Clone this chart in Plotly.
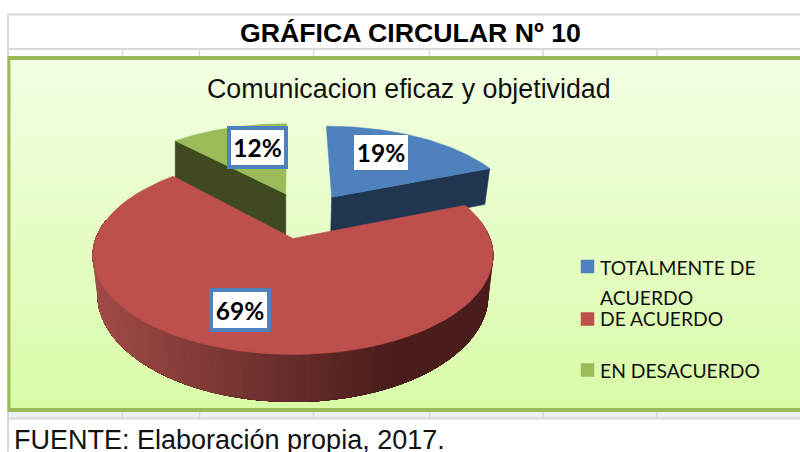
import math
import plotly.graph_objects as go

# ---- data ----
categories = ["TOTALMENTE DE", "DE ACUERDO", "EN DESACUERDO"]
legend_wrap = "ACUERDO"
values = [19, 69, 12]
label_texts = ["19%", "69%", "12%"]
top_colors = ["#4F81BD", "#BD4F4C", "#9BBB59"]
wall_colors = ["#1F3550", "#4A1D1C", "#3F4A20"]
main_title = "GRÁFICA CIRCULAR Nº 10"
chart_title = "Comunicacion eficaz y objetividad"
source_text = "FUENTE: Elaboración propia, 2017."

# ---- 3D projection of the pie (pixel-like data space) ----
CX, CY, R, RY, K, DEPTH, SHRINK = 293, 238.5, 197, 96, 0.172, 39, 0.975
explode = [(0.212, 0.465), (0.0, 0.0), (-0.04, 0.505)]
depth_scale = [1.05, 1.0, 1.22]


def top_pt(u, v):
    s = 1 / (1 + K * v)
    return CX + R * u * s, CY - RY * v * s


def bot_pt(u, v, ds=1.0, shrink=SHRINK):
    s = 1 / (1 + K * v)
    x, y = top_pt(u, v)
    return CX + (x - CX) * shrink, y + DEPTH * ds * s


def rim(theta, off):
    return off[0] + math.sin(theta), off[1] + math.cos(theta)


def poly(fig, pts, color):
    xs = [p[0] for p in pts] + [pts[0][0]]
    ys = [p[1] for p in pts] + [pts[0][1]]
    fig.add_trace(go.Scatter(x=xs, y=ys, mode="lines", fill="toself", fillcolor=color,
                             line=dict(color=color, width=0.6), hoverinfo="skip", showlegend=False))


def mix(a, b, t):
    return "rgb(%d,%d,%d)" % tuple(round(a[i] + (b[i] - a[i]) * t) for i in range(3))


fig = go.Figure()

total = sum(values)
angles = []
acc = 0
for v in values:
    a0 = acc / total * 2 * math.pi
    acc += v
    angles.append((a0, acc / total * 2 * math.pi))


def draw_slice(i):
    a0, a1 = angles[i]
    off = explode[i]
    ds = depth_scale[i]
    n = 90
    ths = [a0 + (a1 - a0) * j / n for j in range(n + 1)]
    apex = (off[0], off[1])
    if i == 1:
        # outer wall: painted from the dark end to the light end, each band
        # reaching under the next one, so that no seams show between the bands
        left, right = (160, 74, 70), (74, 29, 28)
        visible = [t for t in ths if rim(t, off)[1] < 0.2]
        for j in range(len(visible) - 1):
            part = visible[j:]
            xm = (top_pt(*rim(visible[j], off))[0] - 98) / (395 - 98)
            t = min(max(xm, 0), 1)
            upper = [top_pt(*rim(a, off)) for a in part]
            lower = [bot_pt(*rim(a, off)) for a in reversed(part)]
            poly(fig, upper + lower, mix(left, right, t))
    else:
        # radial wall
        shrink = 1.0 if i == 2 else SHRINK
        e = rim(a1 if i == 0 else a0, off)
        poly(fig, [top_pt(*apex), top_pt(*e), bot_pt(*e, ds, shrink), bot_pt(*apex, ds, shrink)], wall_colors[i])
    poly(fig, [top_pt(*apex)] + [top_pt(*rim(t, off)) for t in ths], top_colors[i])


for i in (2, 0, 1):
    draw_slice(i)

# ---- legend ----
legend_y = [266.5, 319, 370]
legend_text_y = [267, 318, 370]
for name, col, ly, ty in zip(categories, top_colors, legend_y, legend_text_y):
    fig.add_trace(go.Scatter(x=[587.5], y=[ly], mode="markers", hoverinfo="skip", showlegend=False,
                             marker=dict(symbol="square", size=13.5, color=col, line=dict(width=0))))
    fig.add_annotation(x=598, y=ty, text=name, showarrow=False, xanchor="left", yanchor="middle", align="left",
                       font=dict(family="Lato", size=19.3, color="#111111"))
fig.add_annotation(x=598, y=297, text=legend_wrap, showarrow=False, xanchor="left", yanchor="middle", align="left",
                   font=dict(family="Lato", size=19.3, color="#111111"))

# ---- data labels ----
label_pos = [(381, 152.5), (240, 310), (257.5, 147)]
label_size = [(54, 35), (54, 36), (53, 35)]
label_border = [0, 4, 4]
for t, (lx, ly), (w, h), b in zip(label_texts, label_pos, label_size, label_border):
    fig.add_annotation(x=lx, y=ly, text=f"<b>{t}</b>", showarrow=False, width=w, height=h,
                       bgcolor="white", bordercolor="#4F81BD", borderwidth=b, borderpad=0,
                       font=dict(family="Lato", size=24.5, color="black"))

# ---- titles ----
fig.add_annotation(x=410, y=33, text=f"<b>{main_title}</b>", showarrow=False,
                   font=dict(family="Liberation Sans", size=26.7, color="black"))
fig.add_annotation(x=408.5, y=89, text=chart_title, showarrow=False,
                   font=dict(family="Liberation Sans", size=26.8, color="#111111"))
fig.add_annotation(x=12, y=440, text=source_text, showarrow=False, xanchor="left",
                   font=dict(family="Liberation Sans", size=27, color="#111111"))

# ---- panel and table lines ----
shapes = []
G = "#D9D9D9"
top_c, bot_c = (243, 255, 227), (217, 251, 168)
y0, y1 = 58, 410
strips = 44
for j in range(strips):
    a = y0 + (y1 - y0) * j / strips
    b = y0 + (y1 - y0) * (j + 1) / strips + 0.5
    c = mix(top_c, bot_c, j / (strips - 1))
    shapes.append(dict(type="rect", x0=9, x1=800, y0=a, y1=b, fillcolor=c, line_width=0, layer="below"))


def line(x0, y0_, x1, y1_, color=G, w=2):
    shapes.append(dict(type="line", x0=x0, y0=y0_, x1=x1, y1=y1_, line=dict(color=color, width=w), layer="below"))


shapes.append(dict(type="rect", x0=8, x1=800, y0=412, y1=418, fillcolor="#F0F0F0", line_width=0, layer="below"))
line(7, 14.5, 800, 14.5)
line(7, 49, 800, 49)
line(8, 14, 8, 452)
line(7, 418.5, 800, 418.5)
for vx in [122.5, 199.5, 313.5, 429.5, 543, 657]:
    line(vx, 49, vx, 56, w=1.5)
    line(vx, 412, vx, 418, w=1.5)
B = "#9BBB59"
line(8, 58, 800, 58, B, 4)
line(8, 410, 800, 410, B, 4)
line(9, 56, 9, 412, B, 3)

fig.update_layout(width=800, height=452, margin=dict(l=0, r=0, t=0, b=0), autosize=False,
                  paper_bgcolor="white", plot_bgcolor="rgba(0,0,0,0)", showlegend=False, shapes=shapes,
                  xaxis=dict(range=[0, 800], visible=False, fixedrange=True),
                  yaxis=dict(range=[452, 0], visible=False, fixedrange=True))
fig.write_html("out.html", config=dict(displayModeBar=False),
               post_script="document.body.style.margin='0';")
